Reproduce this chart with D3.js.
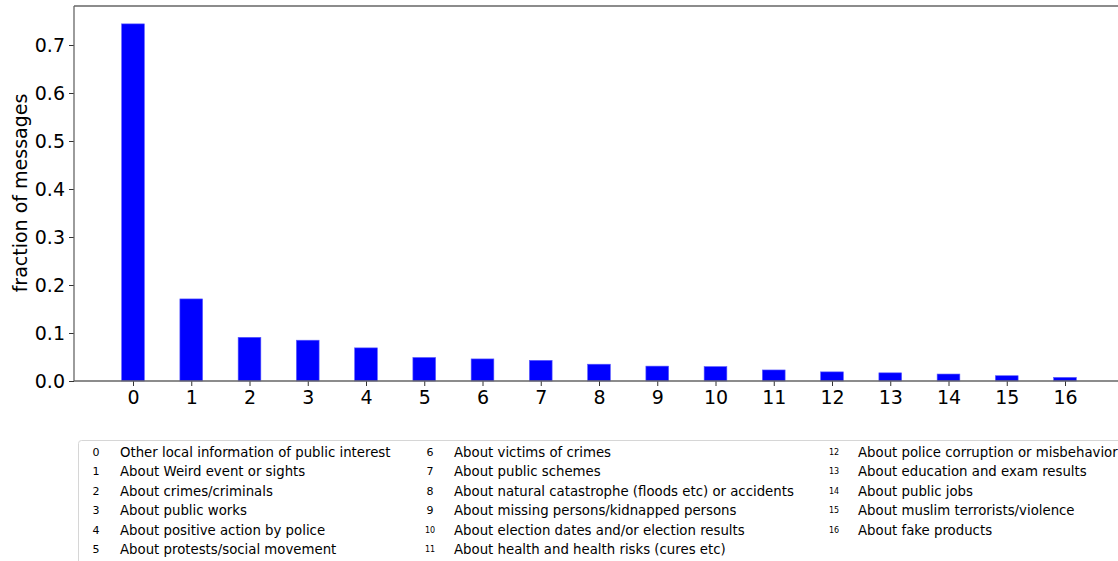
<!DOCTYPE html>
<html>
<head>
<meta charset="utf-8">
<script src="https://cdn.jsdelivr.net/npm/d3@7"></script>
<style>
  body { margin: 0; background: #fff; }
  svg { display: block; font-family: "DejaVu Sans", sans-serif; }
</style>
</head>
<body>
<svg id="chart" width="1118" height="561"></svg>
<script>
// categories and fractions
var categories = d3.range(17)
var fractions = [0.744, 0.171, 0.091, 0.085, 0.069, 0.049, 0.046, 0.043, 0.035, 0.031, 0.030, 0.023, 0.019, 0.017, 0.0145, 0.011, 0.0075]
var yTicks = [0.0, 0.1, 0.2, 0.3, 0.4, 0.5, 0.6, 0.7]
var topicLabels = [
    "Other local information of public interest",
    "About Weird event or sights",
    "About crimes/criminals",
    "About public works",
    "About positive action by police",
    "About protests/social movement",
    "About victims of crimes",
    "About public schemes",
    "About natural catastrophe (floods etc) or accidents",
    "About missing persons/kidnapped persons",
    "About election dates and/or election results",
    "About health and health risks (cures etc)",
    "About police corruption or misbehavior",
    "About education and exam results",
    "About public jobs",
    "About muslim terrorists/violence",
    "About fake products"
]

var margin = { left: 74, top: 6, bottom: 381 }
var svg = d3.select("#chart")

var xScale = d3.scaleLinear().domain([0, 1]).range([133, 191.25])
var yScale = d3.scaleLinear().domain([0, 0.78125]).range([margin.bottom, margin.top])
var barWidth = (xScale(1) - xScale(0)) * 0.39

// bars
svg.append("g").selectAll("rect").data(fractions).join("rect")
    .attr("x", (d, i) => xScale(categories[i]) - barWidth / 2)
    .attr("y", d => yScale(d))
    .attr("width", barWidth)
    .attr("height", d => yScale(0) - yScale(d))
    .attr("fill", "#0000ff")
    .attr("stroke", "#5a5aff").attr("stroke-width", 0.6)

// y axis
var yAxis = svg.append("g").attr("transform", "translate(" + margin.left + ",0)")
    .call(d3.axisLeft(yScale).tickValues(yTicks).tickFormat(d3.format(".1f")).tickSize(5).tickPadding(4))
yAxis.select(".domain").remove()
yAxis.selectAll("line").attr("stroke", "#333")
yAxis.selectAll("text").attr("font-size", 19).attr("fill", "#000")
    .attr("font-family", "DejaVu Sans")

// x axis
var xAxis = svg.append("g").attr("transform", "translate(0," + margin.bottom + ")")
    .call(d3.axisBottom(xScale).tickValues(categories).tickFormat(d3.format("d")).tickSize(5).tickPadding(5))
xAxis.select(".domain").remove()
xAxis.selectAll("line").attr("stroke", "#333")
xAxis.selectAll("text").attr("font-size", 19).attr("fill", "#000")
    .attr("font-family", "DejaVu Sans")

// spines
svg.append("line").attr("x1", margin.left).attr("x2", margin.left).attr("y1", margin.top).attr("y2", margin.bottom)
    .attr("stroke", "#666").attr("stroke-width", 1.3)
svg.append("line").attr("x1", margin.left).attr("x2", 1118).attr("y1", margin.bottom).attr("y2", margin.bottom)
    .attr("stroke", "#666").attr("stroke-width", 1.3)
svg.append("line").attr("x1", margin.left).attr("x2", 1118).attr("y1", margin.top).attr("y2", margin.top)
    .attr("stroke", "#666").attr("stroke-width", 1.3)

// y label
svg.append("text").attr("transform", "translate(27,193) rotate(-90)")
    .attr("text-anchor", "middle").attr("font-size", 19).attr("fill", "#000")
    .text("fraction of messages")

// legend
var legend = svg.append("g")
legend.append("rect").attr("x", 78.5).attr("y", 440.5).attr("width", 1100).attr("height", 200)
    .attr("rx", 3).attr("fill", "#fff").attr("stroke", "#d6d6d6")
var colX = [{ num: 96, txt: 120 }, { num: 430, txt: 454 }, { num: 834, txt: 858 }]
var rowY = d3.scaleLinear().domain([0, 1]).range([452, 471.5])
topicLabels.forEach((label, i) => {
    var col = Math.floor(i / 6), row = i % 6
    var y = rowY(row)
    legend.append("text").attr("x", colX[col].num).attr("y", y)
        .attr("text-anchor", "middle").attr("dominant-baseline", "central")
        .attr("font-size", i < 10 ? 11 : 8).attr("fill", "#000").text(categories[i])
    legend.append("text").attr("x", colX[col].txt).attr("y", y)
        .attr("dominant-baseline", "central")
        .attr("font-size", 13.3).attr("fill", "#000").text(label)
})
</script>
</body>
</html>
